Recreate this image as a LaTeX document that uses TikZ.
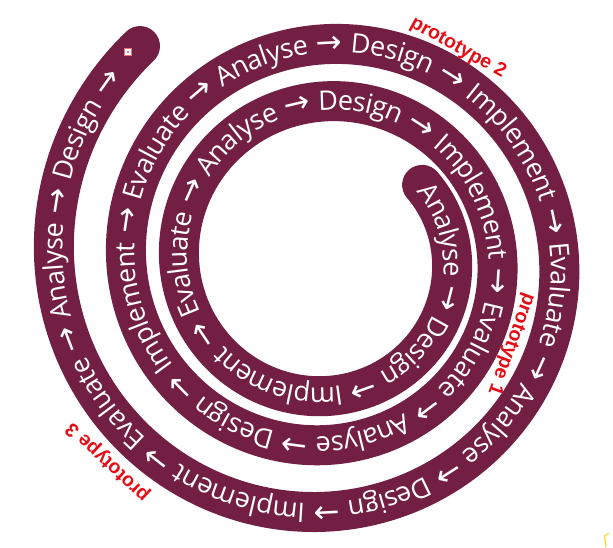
\documentclass[tikz,border=0pt]{standalone}
\usepackage{fontspec}
\usepackage{tikz}
\usetikzlibrary{decorations.text}
\newfontfamily\spiralfont{Open Sans}
\newfontfamily\arrowfont{DejaVu Sans}
\newfontfamily\labelfont{Liberation Sans}
\definecolor{wine}{RGB}{115,31,68}
\definecolor{protored}{RGB}{232,12,20}
\definecolor{handlepink}{RGB}{228,120,125}
\definecolor{markyellow}{RGB}{250,215,50}
\newcommand{\nextstep}{\arrowfont\fontsize{31}{31}\selectfont →}

\begin{document}
\begin{tikzpicture}[x=1pt, y=1pt,
  declare function={spr(\t)=126*exp(0.000855*\t);},
  band/.style={draw=wine, line width=40pt, line cap=round, line join=round},
  proto/.style={text=protored, font=\labelfont\bfseries\fontsize{19.5}{20}\selectfont, inner sep=0pt}]
  \useasboundingbox (0,0) rectangle (613,547);
  % spiral band
  \draw[band] plot[domain=-38:949, samples=600] ({326+spr(\x)*cos(\x)}, {287-spr(\x)*sin(\x)});
  % words along the band
  \path[decorate, decoration={text along path, text color=white, raise=-8.5pt,
      text align={fit to path stretching spaces, left indent=2pt, right indent=36pt},
      text={|\spiralfont\fontsize{27}{27}\selectfont|Analyse {\nextstep} Design {\nextstep} Implement {\nextstep} Evaluate {\nextstep} Analyse {\nextstep} Design {\nextstep} Implement {\nextstep} Evaluate {\nextstep} Analyse {\nextstep} Design {\nextstep} Implement {\nextstep} Evaluate {\nextstep} Analyse {\nextstep} Design {\nextstep} Implement {\nextstep} Evaluate {\nextstep} Analyse {\nextstep} Design {\nextstep} Implement {\nextstep} Evaluate {\nextstep} Analyse {\nextstep} Design {\nextstep}}}]
    plot[domain=-38:949, samples=600] ({326+spr(\x)*cos(\x)}, {287-spr(\x)*sin(\x)});
  % prototype labels
  \node[proto, rotate=-110] (proto1) at (511,203) {prototype 1};
  \node[proto, rotate=-29] (proto2) at (458,499) {prototype 2};
  \node[proto, rotate=137] (proto3) at (108,85) {prototype 3};
  % small marks
  \node[draw=handlepink, fill=white, line width=1pt, minimum size=7pt, inner sep=0pt] (handle) at (128,495) {};
  \fill[protored!70] (handle.center) circle (1.2pt);
  \draw[markyellow, line width=1.2pt] (606,0) -- (604.5,11) -- (609,14);
\end{tikzpicture}
\end{document}
